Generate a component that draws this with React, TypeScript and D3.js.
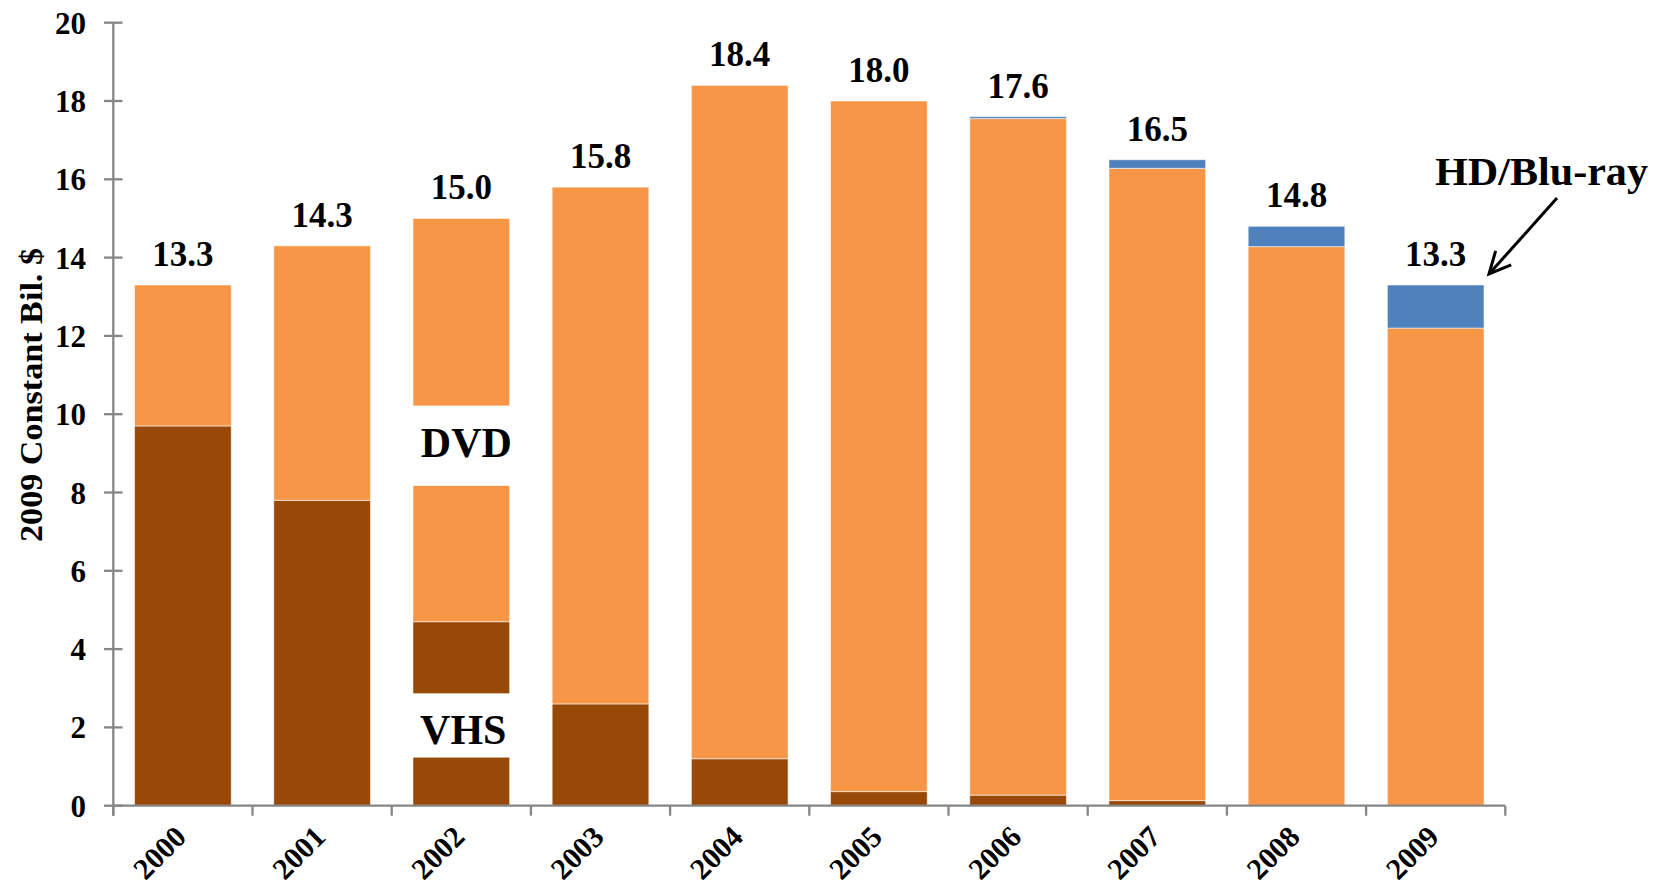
import React from 'react';
import * as d3 from 'd3';

const years = ['2000', '2001', '2002', '2003', '2004', '2005', '2006', '2007', '2008', '2009'];
const vhs = [9.7, 7.8, 4.7, 2.6, 1.2, 0.36, 0.27, 0.13, 0, 0];
const dvd = [3.6, 6.5, 10.3, 13.2, 17.2, 17.64, 17.28, 16.15, 14.28, 12.2];
const hd = [0, 0, 0, 0, 0, 0, 0.05, 0.22, 0.52, 1.1];
const yTicks = [0, 2, 4, 6, 8, 10, 12, 14, 16, 18, 20];
const seriesNames = ['VHS', 'DVD', 'HD/Blu-ray'];
const colors = ['#984807', '#F79646', '#4F81BD'];

const FONT = '"Liberation Serif", "Times New Roman", serif';
const AXIS = '#868686';

export default function App() {
  const W = 1666, H = 891;
  const x = d3.scaleBand<string>().domain(years).range([113.3, 1505.3]).padding(0);
  const y = d3.scaleLinear().domain([0, 20]).range([805.7, 22.7]);
  const bw = x.bandwidth();
  const barW = bw / 1.44;

  const rows = years.map((yr, i) => ({ year: yr, VHS: vhs[i], DVD: dvd[i], 'HD/Blu-ray': hd[i] }));
  const stack = d3.stack<any>().keys(seriesNames)(rows);
  const totals = years.map((_, i) => vhs[i] + dvd[i] + hd[i]);

  const bx = (yr: string) => (x(yr) as number) + (bw - barW) / 2;
  const cx = (yr: string) => (x(yr) as number) + bw / 2;

  // annotation boxes on the 2002 bar (in data units)
  const dvdBox = [8.17, 10.22];
  const vhsBox = [1.23, 2.87];

  const tip = [1489, 274];
  const tail = [1557, 198];
  const ang = Math.atan2(tail[1] - tip[1], tail[0] - tip[0]);
  const ah = 24, spread = 0.45;
  const a1 = [tip[0] + ah * Math.cos(ang + spread), tip[1] + ah * Math.sin(ang + spread)];
  const a2 = [tip[0] + ah * Math.cos(ang - spread), tip[1] + ah * Math.sin(ang - spread)];

  return (
    <svg width={W} height={H} style={{ position: 'absolute', left: 0, top: 0, background: '#fff' }} fontFamily={FONT}>
      {/* bars */}
      {stack.map((s, si) => (
        <g key={seriesNames[si]} fill={colors[si]}>
          {s.map((d, i) => {
            const h = y(d[0]) - y(d[1]);
            if (h <= 0) return null;
            return (
              <rect key={i} x={bx(years[i])} y={y(d[1])} width={barW} height={h}
                stroke="#ffffff" strokeOpacity={0.55} strokeWidth={1} />
            );
          })}
        </g>
      ))}

      {/* 2002 annotation boxes */}
      <rect x={bx('2002') - 1} y={y(dvdBox[1])} width={barW + 2} height={y(dvdBox[0]) - y(dvdBox[1])} fill="#fff" />
      <rect x={bx('2002') - 1} y={y(vhsBox[1])} width={barW + 2} height={y(vhsBox[0]) - y(vhsBox[1])} fill="#fff" />
      <text x={cx('2002') + 5} y={y((dvdBox[0] + dvdBox[1]) / 2) + 11} textAnchor="middle" fontWeight="bold" fontSize={42}>DVD</text>
      <text x={cx('2002') + 2} y={y((vhsBox[0] + vhsBox[1]) / 2) + 19} textAnchor="middle" fontWeight="bold" fontSize={42}>VHS</text>

      {/* value labels */}
      {years.map((yr, i) => (
        <text key={yr} x={cx(yr)} y={y(totals[i]) - 19} textAnchor="middle" fontWeight="bold" fontSize={35}>
          {d3.format('.1f')(totals[i])}
        </text>
      ))}

      {/* y axis */}
      <line x1={113.3} x2={113.3} y1={y(20)} y2={y(0) + 10} stroke={AXIS} strokeWidth={2.3} />
      {yTicks.map(t => (
        <g key={t}>
          <line x1={104} x2={122.5} y1={y(t)} y2={y(t)} stroke={AXIS} strokeWidth={2.3} />
          <text x={86} y={y(t) + 11} textAnchor="end" fontWeight="bold" fontSize={31}>{t}</text>
        </g>
      ))}

      {/* x axis */}
      <line x1={113.3} x2={1505.3} y1={y(0)} y2={y(0)} stroke={AXIS} strokeWidth={2.3} />
      {[...years.map(yr => x(yr) as number), 1505.3].map((px, i) => (
        <line key={i} x1={px} x2={px} y1={y(0)} y2={y(0) + 10} stroke={AXIS} strokeWidth={2.3} />
      ))}
      {years.map(yr => (
        <text key={yr} transform={`translate(${cx(yr) + 5},${y(0) + 33}) rotate(-45)`} textAnchor="end"
          fontWeight="bold" fontSize={30}>{yr}</text>
      ))}

      {/* y axis title */}
      <text transform={`translate(42,395) rotate(-90)`} textAnchor="middle" fontWeight="bold" fontSize={31}
        textLength={294} lengthAdjust="spacingAndGlyphs">2009 Constant Bil. $</text>

      {/* HD/Blu-ray annotation */}
      <text x={1435} y={185} fontWeight="bold" fontSize={41} textLength={213} lengthAdjust="spacingAndGlyphs">HD/Blu-ray</text>
      <line x1={tail[0]} y1={tail[1]} x2={tip[0]} y2={tip[1]} stroke="#000" strokeWidth={3} />
      <polyline points={`${a1[0]},${a1[1]} ${tip[0]},${tip[1]} ${a2[0]},${a2[1]}`} fill="none" stroke="#000" strokeWidth={3} />
    </svg>
  );
}
